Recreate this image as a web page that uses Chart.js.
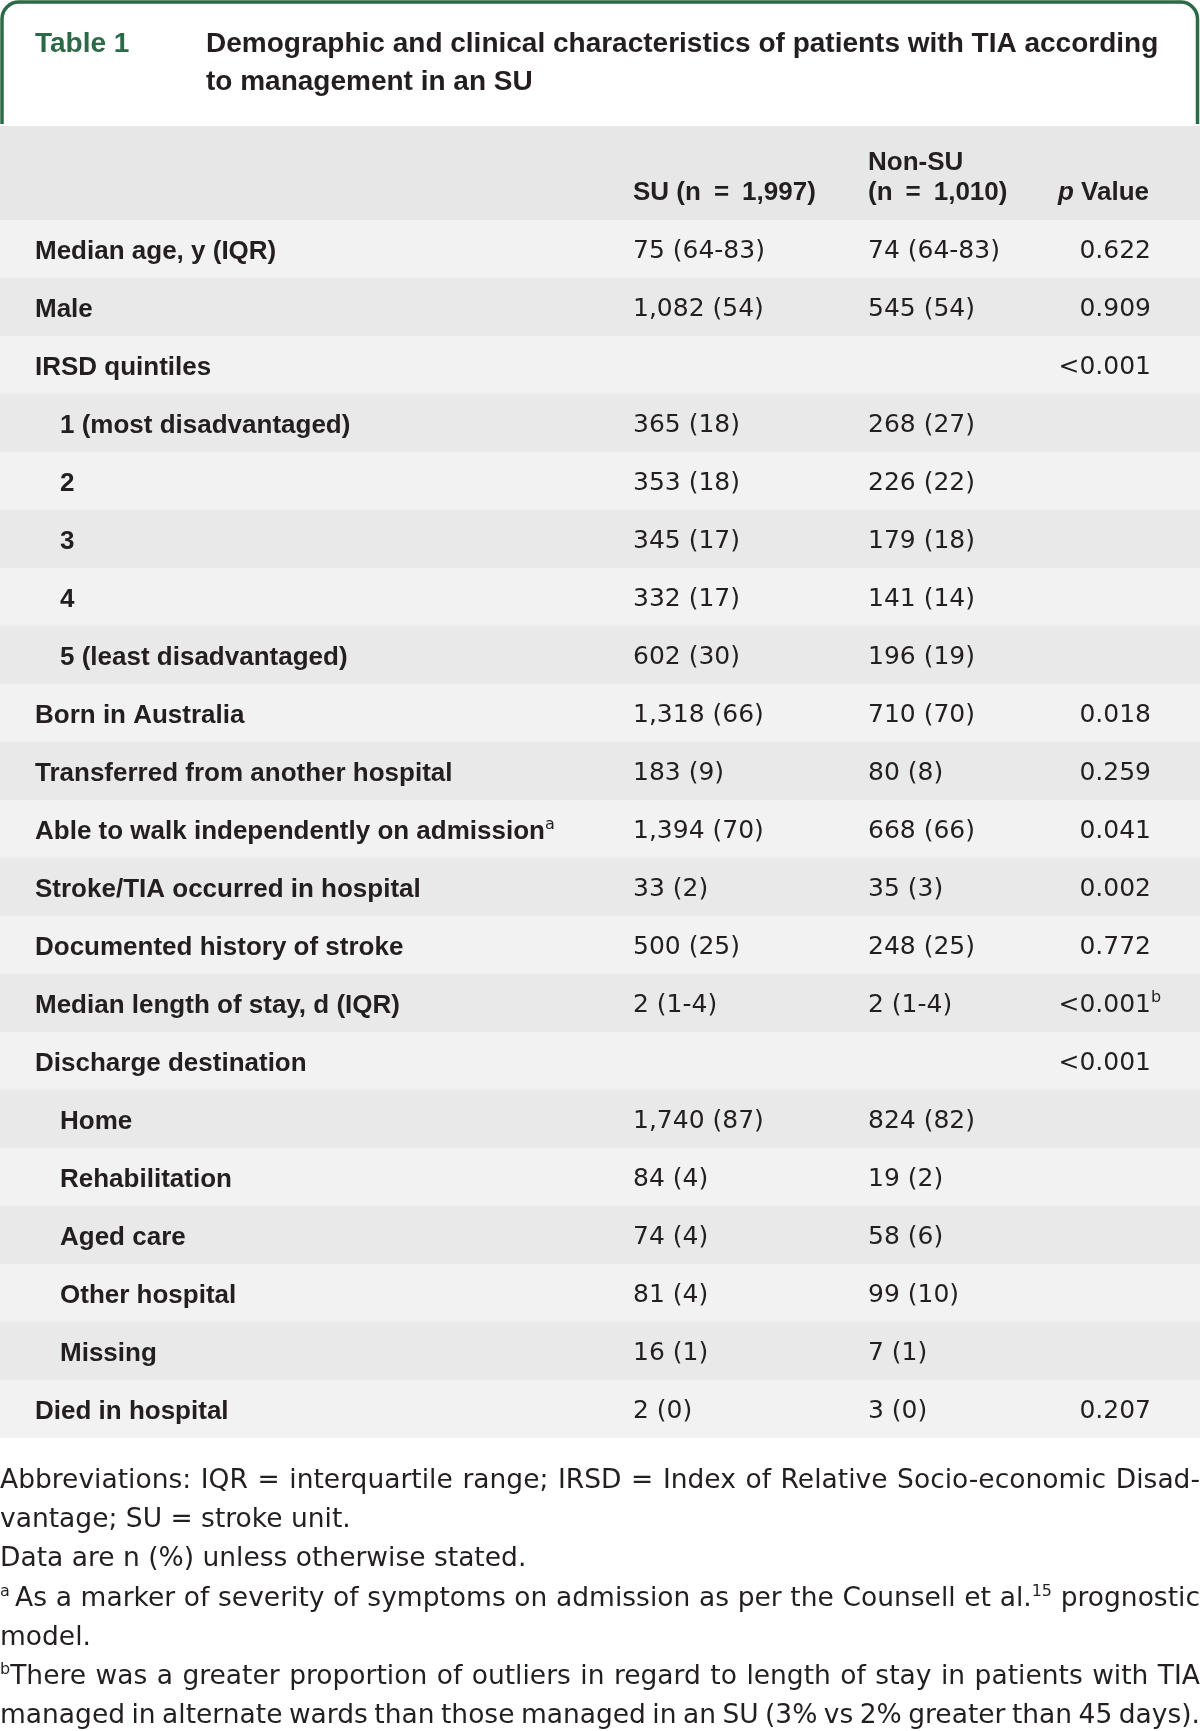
<!DOCTYPE html>
<html>
<head>
<meta charset="utf-8">
<title>Table 1</title>
<script src="https://cdn.jsdelivr.net/npm/chart.js@4.4.1/dist/chart.umd.min.js"></script>
<style>
  html, body { margin: 0; padding: 0; background: #fff; }
  #wrap { width: 1200px; height: 1731px; }
</style>
</head>
<body>
<div id="wrap"><canvas id="tabla"></canvas></div>
<script>
// {x} = superscript, {i:x} = italic
const titleTag = 'Table 1';
const titleLines = ['Demographic and clinical characteristics of patients with TIA according', 'to management in an SU'];
const columnHeaders = [['SU (n\u2002=\u20021,997)'], ['Non-SU', '(n\u2002=\u20021,010)'], ['{i:p} Value']];

const rowLabels = [
  'Median age, y (IQR)', 'Male', 'IRSD quintiles', '1 (most disadvantaged)', '2', '3', '4',
  '5 (least disadvantaged)', 'Born in Australia', 'Transferred from another hospital',
  'Able to walk independently on admission{a}', 'Stroke/TIA occurred in hospital',
  'Documented history of stroke', 'Median length of stay, d (IQR)', 'Discharge destination',
  'Home', 'Rehabilitation', 'Aged care', 'Other hospital', 'Missing', 'Died in hospital'
];
const rowLevels = [0, 0, 0, 1, 1, 1, 1, 1, 0, 0, 0, 0, 0, 0, 0, 1, 1, 1, 1, 1, 0];
const suValues = ['75 (64-83)', '1,082 (54)', '', '365 (18)', '353 (18)', '345 (17)', '332 (17)', '602 (30)',
  '1,318 (66)', '183 (9)', '1,394 (70)', '33 (2)', '500 (25)', '2 (1-4)', '', '1,740 (87)', '84 (4)',
  '74 (4)', '81 (4)', '16 (1)', '2 (0)'];
const nonSuValues = ['74 (64-83)', '545 (54)', '', '268 (27)', '226 (22)', '179 (18)', '141 (14)', '196 (19)',
  '710 (70)', '80 (8)', '668 (66)', '35 (3)', '248 (25)', '2 (1-4)', '', '824 (82)', '19 (2)',
  '58 (6)', '99 (10)', '7 (1)', '3 (0)'];
const pValues = ['0.622', '0.909', '<0.001', '', '', '', '', '', '0.018', '0.259', '0.041', '0.002',
  '0.772', '<0.001{b}', '<0.001', '', '', '', '', '', '0.207'];

const footnoteLines = [
  { text: 'Abbreviations: IQR = interquartile range; IRSD = Index of Relative Socio-economic Disad-', justify: true },
  { text: 'vantage; SU = stroke unit.', justify: false },
  { text: 'Data are n (%) unless otherwise stated.', justify: false },
  { text: '{a}\u2009As a marker of severity of symptoms on admission as per the Counsell et al.{15} prognostic', justify: true },
  { text: 'model.', justify: false },
  { text: '{b}There was a greater proportion of outliers in regard to length of stay in patients with TIA', justify: true },
  { text: 'managed in alternate wards than those managed in an SU (3% vs 2% greater than 45 days).', justify: true }
];

const W = 1200;
const green = '#2b6a46';
const ink = '#231f20';
const fonts = {
  title: 'bold 28px "Liberation Sans", Arial, sans-serif',
  head: 'bold 26px "Liberation Sans", Arial, sans-serif',
  label: 'bold 26px "Liberation Sans", Arial, sans-serif',
  cell: '25px "DejaVu Sans", sans-serif',
  note: '26.5px "DejaVu Sans", sans-serif',
  sup: '16px "DejaVu Sans", sans-serif'
};
const cols = { label: 35, indent: 60, su: 633, nonSu: 868, pRight: 1151 };

const parseRuns = (text, baseFont) => {
  const runs = [];
  const re = /\{(i:)?([^}]*)\}/g;
  let last = 0, m;
  while ((m = re.exec(text))) {
    if (m.index > last) runs.push({ t: text.slice(last, m.index), font: baseFont, rise: 0 });
    if (m[1]) runs.push({ t: m[2], font: 'italic ' + baseFont, rise: 0 });
    else runs.push({ t: m[2], font: fonts.sup, rise: 10, sup: true });
    last = re.lastIndex;
  }
  if (last < text.length) runs.push({ t: text.slice(last), font: baseFont, rise: 0 });
  return runs;
};

const runsWidth = (ctx, runs, skipSup) => runs.reduce((w, r) => {
  if (skipSup && r.sup) return w;
  ctx.font = r.font;
  return w + ctx.measureText(r.t).width;
}, 0);

const drawRuns = (ctx, runs, x, y, align) => {
  let cx = align === 'right' ? x - runsWidth(ctx, runs, true) : x;
  ctx.textAlign = 'left';
  runs.forEach(r => {
    ctx.font = r.font;
    ctx.fillText(r.t, cx, y - r.rise);
    cx += ctx.measureText(r.t).width;
  });
};

const drawParagraphLine = (ctx, line, y) => {
  const words = line.text.split(' ').map(w => parseRuns(w, fonts.note));
  const widths = words.map(w => runsWidth(ctx, w, false));
  ctx.font = fonts.note;
  const space = ctx.measureText(' ').width;
  const total = widths.reduce((a, b) => a + b, 0);
  let gap = space;
  if (line.justify && words.length > 1) gap = (W - total) / (words.length - 1);
  // squeeze a line that would not fit
  const squeeze = gap < space * 0.5 ? W / (total + space * 0.5 * (words.length - 1)) : 1;
  if (squeeze < 1) gap = space * 0.5;
  ctx.save();
  ctx.scale(squeeze, 1);
  let x = 0;
  words.forEach((w, i) => {
    drawRuns(ctx, w, x, y, 'left');
    x += widths[i] + gap;
  });
  ctx.restore();
};

const tablePlugin = {
  id: 'tablePlugin',
  beforeDatasetsDraw(chart) {
    const { ctx, chartArea } = chart;
    ctx.save();
    // header band
    ctx.fillStyle = '#e6e7e6';
    ctx.fillRect(0, 126, W, chartArea.top - 126);
    // green frame round the title
    ctx.strokeStyle = green;
    ctx.lineWidth = 3.5;
    ctx.beginPath();
    ctx.moveTo(2, 124);
    ctx.arcTo(2, 2, 40, 2, 17);
    ctx.arcTo(W - 2.5, 2, W - 2.5, 40, 17);
    ctx.lineTo(W - 2.5, 124);
    ctx.stroke();
    ctx.restore();
  },
  afterDatasetsDraw(chart) {
    const { ctx, chartArea, scales } = chart;
    const x = scales.x, y = scales.y;
    ctx.save();
    ctx.textBaseline = 'alphabetic';

    // title
    ctx.fillStyle = green;
    ctx.font = fonts.title;
    ctx.fillText(titleTag, 35, 52);
    ctx.fillStyle = ink;
    titleLines.forEach((t, i) => ctx.fillText(t, 206, 52 + i * 38));

    // column headers, bottom-aligned
    const headX = [x.getPixelForValue(cols.su), x.getPixelForValue(cols.nonSu), x.getPixelForValue(cols.pRight) - 2];
    columnHeaders.forEach((lines, c) => {
      lines.forEach((t, i) => {
        const by = 200 - (lines.length - 1 - i) * 30;
        drawRuns(ctx, parseRuns(t, fonts.head), headX[c], by, c === 2 ? 'right' : 'left');
      });
    });

    // body rows
    rowLabels.forEach((label, i) => {
      const cy = y.getPixelForValue(i);
      const lx = x.getPixelForValue(rowLevels[i] ? cols.indent : cols.label);
      drawRuns(ctx, parseRuns(label, fonts.label), lx, cy + 9.5, 'left');
      ctx.font = fonts.cell;
      ctx.fillText(suValues[i], x.getPixelForValue(cols.su), cy + 9);
      ctx.fillText(nonSuValues[i], x.getPixelForValue(cols.nonSu), cy + 9);
      if (pValues[i]) drawRuns(ctx, parseRuns(pValues[i], fonts.cell), x.getPixelForValue(cols.pRight), cy + 9, 'right');
    });

    // footnotes
    footnoteLines.forEach((line, i) => drawParagraphLine(ctx, line, chartArea.bottom + 50 + i * 39.2));
    ctx.restore();
  }
};

const canvas = document.getElementById('tabla');
new Chart(canvas, {
  type: 'bar',
  data: {
    labels: rowLabels,
    datasets: [{
      data: rowLabels.map(() => [0, W]),
      backgroundColor: rowLabels.map((_, i) => i % 2 ? '#e8e9e8' : '#f2f2f2'),
      borderWidth: 0,
      barPercentage: 1,
      categoryPercentage: 1
    }]
  },
  options: {
    indexAxis: 'y',
    responsive: true,
    maintainAspectRatio: false,
    animation: false,
    layout: { padding: { top: 220, bottom: 293, left: 0, right: 0 } },
    scales: {
      x: { type: 'linear', min: 0, max: W, display: false },
      y: { display: false }
    },
    plugins: { legend: { display: false }, tooltip: { enabled: false } }
  },
  plugins: [tablePlugin]
});
</script>
</body>
</html>
